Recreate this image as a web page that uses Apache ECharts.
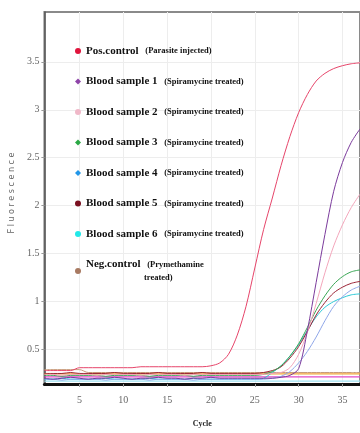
<!DOCTYPE html>
<html>
<head>
<meta charset="utf-8">
<script src="https://cdn.jsdelivr.net/npm/echarts@6/dist/echarts.min.js"></script>
<style>
  html, body { margin: 0; padding: 0; background: #fff; }
  #main { width: 360px; height: 433px; }
</style>
</head>
<body>
<div id="main"></div>
<script>
var cycles = [1, 2, 3, 4, 5, 6, 7, 8, 9, 10, 11, 12, 13, 14, 15, 16, 17, 18, 19, 20,
  21, 22, 23, 24, 25, 26, 27, 28, 29, 30, 31, 32, 33, 34, 35, 36, 37]

var xTicks = [5, 10, 15, 20, 25, 30, 35]
var yTicks = [0.5, 1, 1.5, 2, 2.5, 3, 3.5]

var posControl = [0.28, 0.28, 0.28, 0.28, 0.31, 0.31, 0.31, 0.31, 0.31, 0.31, 0.31, 0.32, 0.32, 0.32, 0.32, 0.32, 0.32, 0.32, 0.32, 0.33,
  0.36, 0.45, 0.65, 0.95, 1.35, 1.75, 2.08, 2.42, 2.72, 2.97, 3.16, 3.30, 3.38, 3.43, 3.46, 3.48, 3.49]
var sample1 = [0.20, 0.19, 0.20, 0.21, 0.20, 0.19, 0.20, 0.20, 0.21, 0.20, 0.19, 0.20, 0.20, 0.21, 0.20, 0.20, 0.19, 0.20, 0.20, 0.21,
  0.20, 0.20, 0.20, 0.20, 0.20, 0.20, 0.20, 0.21, 0.23, 0.30, 0.70, 1.20, 1.70, 2.15, 2.45, 2.66, 2.80]
var sample2 = [0.24, 0.24, 0.23, 0.24, 0.24, 0.24, 0.23, 0.24, 0.24, 0.24, 0.24, 0.23, 0.24, 0.24, 0.24, 0.24, 0.23, 0.24, 0.24, 0.24,
  0.24, 0.24, 0.24, 0.24, 0.24, 0.24, 0.25, 0.26, 0.31, 0.45, 0.68, 0.98, 1.30, 1.58, 1.80, 1.98, 2.12]
var sample3 = [0.23, 0.23, 0.22, 0.23, 0.23, 0.23, 0.23, 0.22, 0.23, 0.23, 0.23, 0.23, 0.22, 0.23, 0.23, 0.23, 0.23, 0.22, 0.23, 0.23,
  0.23, 0.23, 0.23, 0.23, 0.23, 0.24, 0.27, 0.33, 0.43, 0.56, 0.73, 0.91, 1.06, 1.18, 1.26, 1.31, 1.33]
var sample4 = [0.19, 0.19, 0.18, 0.19, 0.19, 0.19, 0.19, 0.18, 0.19, 0.19, 0.19, 0.19, 0.18, 0.19, 0.19, 0.19, 0.19, 0.18, 0.19, 0.19,
  0.19, 0.19, 0.19, 0.19, 0.19, 0.19, 0.20, 0.22, 0.27, 0.36, 0.48, 0.63, 0.80, 0.95, 1.05, 1.12, 1.16]
var sample5 = [0.25, 0.25, 0.25, 0.26, 0.25, 0.25, 0.25, 0.25, 0.26, 0.25, 0.25, 0.25, 0.25, 0.26, 0.25, 0.25, 0.25, 0.25, 0.26, 0.25,
  0.25, 0.25, 0.25, 0.25, 0.25, 0.26, 0.28, 0.32, 0.41, 0.53, 0.69, 0.86, 0.99, 1.09, 1.15, 1.19, 1.21]
var sample6 = [0.19, 0.19, 0.20, 0.19, 0.19, 0.19, 0.19, 0.20, 0.19, 0.19, 0.19, 0.19, 0.20, 0.19, 0.19, 0.19, 0.19, 0.20, 0.19, 0.19,
  0.19, 0.19, 0.19, 0.19, 0.19, 0.20, 0.26, 0.33, 0.43, 0.55, 0.70, 0.84, 0.94, 1.00, 1.04, 1.07, 1.08]
var negControl = [0.29, 0.29, 0.29, 0.29, 0.29, 0.26, 0.26, 0.26, 0.26, 0.26, 0.26, 0.26, 0.26, 0.26, 0.26, 0.26, 0.26, 0.26, 0.26, 0.26,
  0.26, 0.26, 0.26, 0.26, 0.26, 0.26, 0.26, 0.26, 0.26, 0.26, 0.26, 0.26, 0.26, 0.26, 0.26, 0.26, 0.26]

// unlabelled flat wells seen along the baseline
var flatCycles = [1, 37]
var flatOrange = [0.245, 0.245]
var flatMagenta = [0.215, 0.215]
var flatSky = [0.17, 0.17]

var names = [
  ['Pos.control', '(Parasite injected)'],
  ['Blood sample 1', '(Spiramycine treated)'],
  ['Blood sample 2', '(Spiramycine treated)'],
  ['Blood sample 3', '(Spiramycine treated)'],
  ['Blood sample 4', '(Spiramycine treated)'],
  ['Blood sample 5', '(Spiramycine treated)'],
  ['Blood sample 6', '(Spiramycine treated)'],
  ['Neg.control', '(Prymethamine\ntreated)']
]
var lineColors = ['#e6456a', '#7b3b9c', '#f3a6bb', '#3aa655', '#8fa6e8', '#9b2335', '#2cc9d6', '#c89a7a']
var dotColors = ['#e0143c', '#8e44a8', '#f0b8c8', '#2aa844', '#2196e8', '#7a1020', '#22e8e8', '#a87a62']
var icons = ['circle', 'diamond', 'circle', 'diamond', 'diamond', 'circle', 'circle', 'circle']
var values = [posControl, sample1, sample2, sample3, sample4, sample5, sample6, negControl]

function pairs(xs, ys) {
  return xs.map(function (x, i) { return [x, ys[i]] })
}

var series = values.map(function (v, i) {
  return {
    name: names[i][0],
    type: 'line',
    smooth: 0.3,
    showSymbol: false,
    color: dotColors[i],
    lineStyle: { color: lineColors[i], width: 1 },
    data: pairs(cycles, v),
    z: 10 - i
  }
})
;[['w1', flatOrange, '#f0a43a'], ['w2', flatMagenta, '#e048c8'], ['w3', flatSky, '#9ee2f2']].forEach(function (f) {
  series.push({
    name: f[0],
    type: 'line',
    showSymbol: false,
    lineStyle: { color: f[2], width: 1.2 },
    data: pairs(flatCycles, f[1]),
    z: 1
  })
})

var myChart = echarts.init(document.getElementById('main'), null, { renderer: 'canvas' })
var option = {
  animation: false,
  backgroundColor: '#fff',
  grid: {
    left: 37,
    right: -2,
    top: 12,
    bottom: 45,
    show: true,
    borderColor: '#8a8a8a',
    borderWidth: 2,
    backgroundColor: 'transparent'
  },
  legend: {
    orient: 'vertical',
    left: 70,
    top: 40,
    itemWidth: 6,
    itemHeight: 6,
    itemGap: 18.5,
    data: names.map(function (n, i) {
      return { name: n[0], icon: icons[i], itemStyle: { color: dotColors[i] } }
    }),
    formatter: function (name) {
      for (var i = 0; i < names.length; i++) {
        if (names[i][0] === name) {
          var sub = names[i][1]
          if (sub.indexOf('\n') >= 0) {
            var parts = sub.split('\n')
            return '{a|' + name + '}  {b|' + parts[0] + '}\n{c|' + parts[1] + '}'
          }
          return '{a|' + name + '}  {b|' + sub + '}'
        }
      }
      return name
    },
    textStyle: {
      rich: {
        a: { fontFamily: 'Liberation Serif', fontWeight: 'bold', fontSize: 11, color: '#111', lineHeight: 13 },
        b: { fontFamily: 'Liberation Serif', fontWeight: 'bold', fontSize: 8.5, color: '#111', lineHeight: 13 },
        c: { fontFamily: 'Liberation Serif', fontWeight: 'bold', fontSize: 8.5, color: '#111', lineHeight: 13, padding: [0, 0, 0, 58] }
      }
    }
  },
  xAxis: {
    type: 'value',
    min: 1,
    max: 37,
    name: 'Cycle',
    nameLocation: 'middle',
    nameGap: 36,
    nameTextStyle: { fontFamily: 'Liberation Serif', fontWeight: 'bold', fontSize: 8, color: '#222' },
    axisLine: { show: true, onZero: false, lineStyle: { color: '#111', width: 3 } },
    axisTick: { show: true, customValues: xTicks, length: 3, lineStyle: { color: '#999' } },
    axisLabel: { customValues: xTicks, color: '#666', fontSize: 10, fontFamily: 'Liberation Sans Narrow', margin: 11 },
    splitLine: { show: true, lineStyle: { color: '#ededed', width: 1 } }
  },
  yAxis: {
    type: 'value',
    min: 0.14,
    max: 4.02,
    name: 'F l u o r e s c e n c e',
    nameLocation: 'middle',
    nameRotate: 90,
    nameGap: 27,
    nameTextStyle: { fontSize: 8, color: '#666', fontFamily: 'DejaVu Sans', padding: [0, 0, 0, 10] },
    axisLine: { show: true, lineStyle: { color: '#555', width: 1.5 } },
    axisTick: { show: true, customValues: yTicks, length: 3, lineStyle: { color: '#999' } },
    axisLabel: { customValues: yTicks, color: '#666', fontSize: 10, fontFamily: 'Liberation Sans Narrow', margin: 5 },
    splitLine: { show: true, lineStyle: { color: '#ededed', width: 1 } }
  },
  series: series
}
myChart.setOption(option)
</script>
</body>
</html>
